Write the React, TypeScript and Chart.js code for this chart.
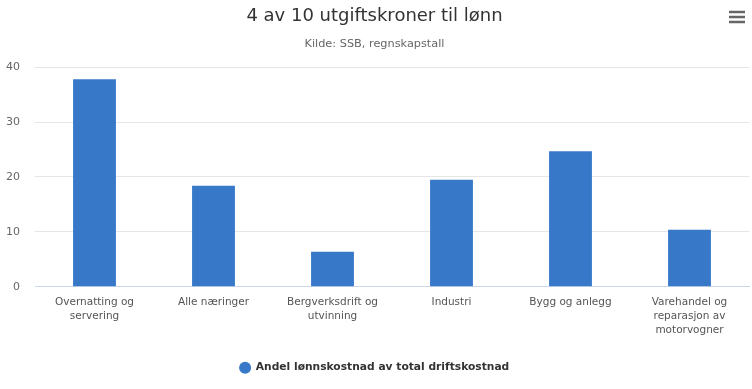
import React, { useEffect, useRef } from "react";
import { Chart, registerables } from "chart.js";

Chart.register(...registerables);

const categories: string[][] = [
  ["Overnatting og", "servering"],
  ["Alle næringer"],
  ["Bergverksdrift og", "utvinning"],
  ["Industri"],
  ["Bygg og anlegg"],
  ["Varehandel og", "reparasjon av", "motorvogner"],
];
const values: number[] = [37.8, 18.4, 6.4, 19.5, 24.7, 10.4];
const seriesName = "Andel lønnskostnad av total driftskostnad";
const titleText = "4 av 10 utgiftskroner til lønn";
const subtitleText = "Kilde: SSB, regnskapstall";
const yTicks: number[] = [0, 10, 20, 30, 40];

const FONT = "'DejaVu Sans', Verdana, sans-serif";
const BAR = "#3778c8";

const menuIcon = {
  id: "menuIcon",
  afterDraw(chart: any) {
    const ctx = chart.ctx;
    ctx.save();
    ctx.strokeStyle = "#666";
    ctx.lineWidth = 2.5;
    [12, 17, 22].forEach((y) => {
      ctx.beginPath();
      ctx.moveTo(729, y);
      ctx.lineTo(745, y);
      ctx.stroke();
    });
    ctx.restore();
  },
};

export default function App() {
  const ref = useRef<HTMLCanvasElement>(null);
  useEffect(() => {
    document.body.style.margin = "0";
    const chart = new Chart(ref.current!, {
      type: "bar",
      data: {
        labels: categories,
        datasets: [
          {
            label: seriesName,
            data: values,
            backgroundColor: BAR,
            borderWidth: 0,
            categoryPercentage: 1,
            barPercentage: 0.36,
          },
        ],
      },
      plugins: [menuIcon],
      options: {
        animation: false,
        responsive: false,
        maintainAspectRatio: false,
        layout: { padding: { left: 0, right: 3, top: 6, bottom: 6 } },
        plugins: {
          title: {
            display: true,
            text: titleText,
            color: "#333",
            font: { family: FONT, size: 18, weight: "normal" },
            padding: { top: 0, bottom: 10 },
          },
          subtitle: {
            display: true,
            text: subtitleText,
            color: "#666",
            font: { family: FONT, size: 11.3, weight: "normal" },
            padding: { top: 0, bottom: 16 },
          },
          legend: {
            position: "bottom",
            labels: {
              usePointStyle: true,
              pointStyle: "circle",
              boxWidth: 12,
              boxHeight: 8.5,
              color: "#333",
              padding: 8,
              font: { family: FONT, size: 10.7, weight: "bold" },
            },
          },
          tooltip: { enabled: false },
        },
        scales: {
          x: {
            grid: { display: false, drawTicks: false },
            border: { color: "#ccd6eb" },
            afterFit: (scale: any) => {
              scale.height += 9;
            },
            ticks: {
              color: "#555",
              font: { family: FONT, size: 10.5, lineHeight: 1.35 },
              maxRotation: 0,
              autoSkip: false,
              padding: 8,
            },
          },
          y: {
            min: 0,
            max: 40,
            afterBuildTicks: (scale: any) => {
              scale.ticks = yTicks.map((v) => ({ value: v }));
            },
            afterFit: (scale: any) => {
              scale.width = 35;
            },
            grid: { color: "#e6e6e6", drawTicks: false },
            border: { display: false },
            ticks: {
              color: "#666",
              font: { family: FONT, size: 11 },
              padding: 15,
            },
          },
        },
      },
    });
    return () => chart.destroy();
  }, []);
  return (
    <div style={{ width: 752, height: 389, background: "#fff" }}>
      <canvas ref={ref} width={752} height={389} />
    </div>
  );
}
